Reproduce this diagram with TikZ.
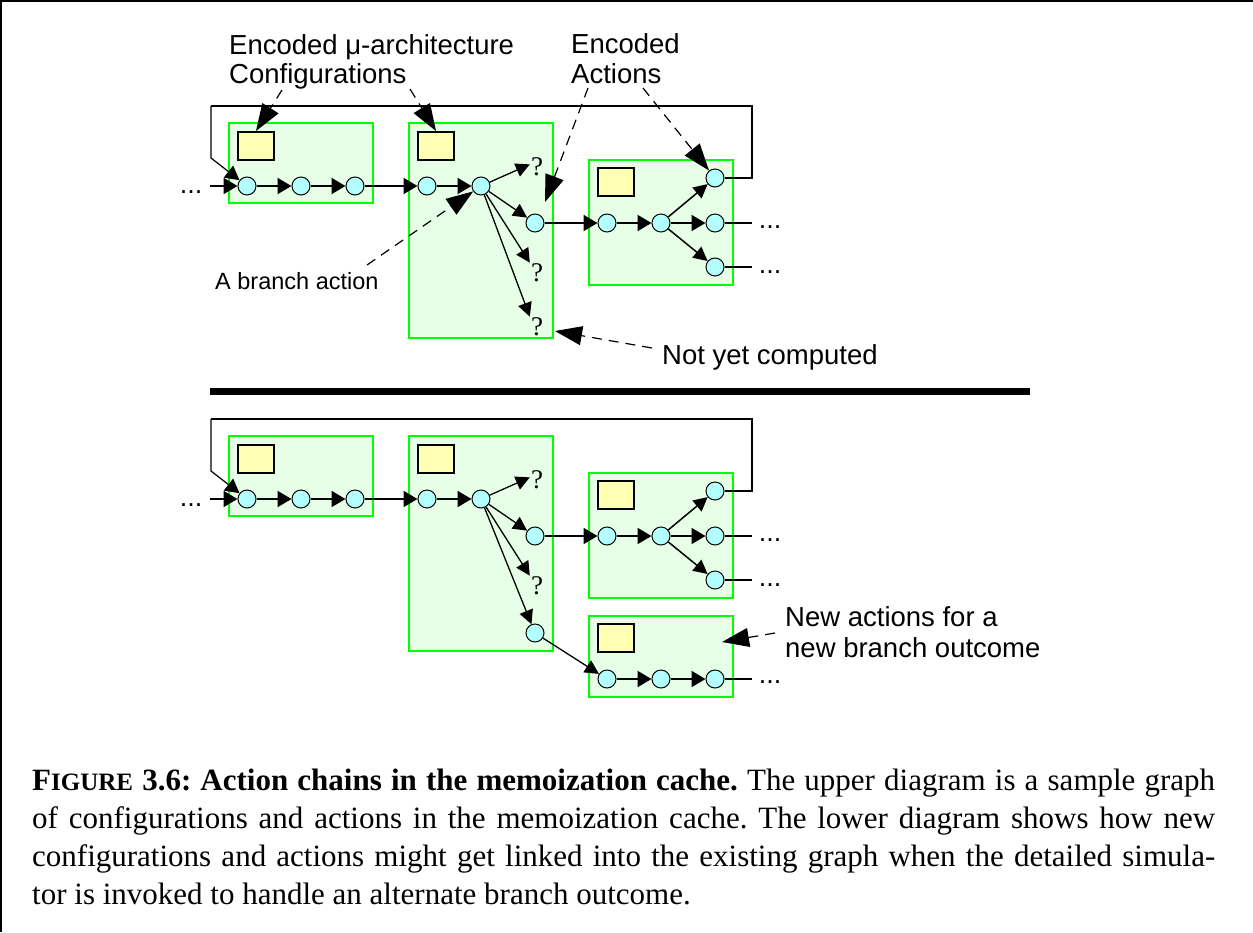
\documentclass[tikz,border=0pt]{standalone}
\usepackage{fontspec}
\setmainfont{Liberation Serif}
\newfontfamily\labelfont{Liberation Sans}
\usetikzlibrary{arrows.meta}

\definecolor{boxgreen}{RGB}{0,255,0}
\definecolor{boxfill}{RGB}{230,255,230}
\definecolor{encfill}{RGB}{255,255,179}
\definecolor{actfill}{RGB}{179,255,255}

\tikzset{
  cfgbox/.style={draw=boxgreen, fill=boxfill, line width=2.5pt, inner sep=0pt},
  enc/.style={draw=black, fill=encfill, line width=2pt, inner sep=0pt,
    minimum width=36pt, minimum height=28pt},
  act/.style={circle, draw=black, fill=actfill, line width=1pt, inner sep=0pt,
    minimum size=18pt},
  qmark/.style={inner sep=1pt, font=\fontsize{27}{30}\selectfont},
  dots/.style={anchor=base, inner sep=0pt, font=\labelfont\fontsize{27}{30}\selectfont},
  lbl/.style={anchor=base west, inner sep=0pt, font=\labelfont\fontsize{27.5}{30}\selectfont},
  smalllbl/.style={anchor=base west, inner sep=0pt, font=\labelfont\fontsize{23.5}{26}\selectfont},
  chain/.style={line width=2pt, -{Triangle[length=14pt,width=16pt]}},
  branch/.style={line width=1.3pt, -{Triangle[length=14pt,width=14pt]}},
  wire/.style={line width=2pt},
  callout/.style={line width=1.2pt, dash pattern=on 10pt off 7pt,
    -{Triangle[length=27pt,width=19pt]}},
}

% One memoization-cache graph: two configuration blocks, the branch block
% and the block that follows the taken branch.
\newcommand\memgraph[1]{%
  \node[cfgbox, minimum width=144pt, minimum height=80pt]  (#1b1) at (301,163) {};
  \node[cfgbox, minimum width=144pt, minimum height=215pt] (#1b2) at (481,230.5) {};
  \node[cfgbox, minimum width=144pt, minimum height=125pt] (#1b3) at (661,222.5) {};
  \node[enc] (#1e1) at (256,146) {};
  \node[enc] (#1e2) at (436,146) {};
  \node[enc] (#1e3) at (616,182) {};
  \node[act] (#1c1)  at (247,186) {};
  \node[act] (#1c2)  at (301,186) {};
  \node[act] (#1c3)  at (355,186) {};
  \node[act] (#1c4)  at (427,186) {};
  \node[act] (#1c5)  at (481,186) {};
  \node[act] (#1c6)  at (535,223) {};
  \node[act] (#1c7)  at (607,223) {};
  \node[act] (#1c8)  at (661,223) {};
  \node[act] (#1c9)  at (715,223) {};
  \node[act] (#1c10) at (715,178) {};
  \node[act] (#1c11) at (715,267) {};
  \node[qmark] (#1q1) at (537,167) {?};
  \node[qmark] (#1q2) at (537,273) {?};
  \node[dots] (#1d0)  at (191,193) {...};
  \node[dots] (#1d9)  at (770,228.5) {...};
  \node[dots] (#1d11) at (770,273) {...};
  \coordinate (#1in)  at (210,186);
  \coordinate (#1o9)  at (752,223);
  \coordinate (#1o11) at (752,267);
  \coordinate (#1tr)  at (752,106);
  \coordinate (#1tl)  at (211,106);
  \coordinate (#1bl)  at (211,158);
  \draw[chain] (#1in) -- (#1c1);
  \draw[chain] (#1c1) -- (#1c2);
  \draw[chain] (#1c2) -- (#1c3);
  \draw[chain] (#1c3) -- (#1c4);
  \draw[chain] (#1c4) -- (#1c5);
  \draw[branch] (#1c5) -- (#1q1.160);
  \draw[branch] (#1c5) -- (#1c6);
  \draw[branch] (#1c5) -- (#1q2.north west);
  \draw[chain] (#1c6) -- (#1c7);
  \draw[chain] (#1c7) -- (#1c8);
  \draw[chain] (#1c8) -- (#1c9);
  \draw[branch, line width=1.5pt] (#1c8) -- (#1c10);
  \draw[branch, line width=1.5pt] (#1c8) -- (#1c11);
  \draw[wire] (#1c9) -- (#1o9);
  \draw[wire] (#1c11) -- (#1o11);
  \draw[wire] (#1c10) -| (#1tr) -- (#1tl);
  \draw[line width=1.2pt, -{Triangle[length=14pt,width=15pt]}]
    (#1tl) -- (#1bl) -- (#1c1);
}

\begin{document}
\begin{tikzpicture}[x=1pt, y=-1pt]
  \useasboundingbox (0,0) rectangle (1253,932);
  \fill[white] (0,0) rectangle (1253,932);

  % frame edges
  \draw[line width=2pt] (0,1) -- (1253,1);
  \draw[line width=2pt] (1,0) -- (1,932);

  % ---------------- upper diagram ----------------
  \memgraph{u}
  \node[qmark] (uq3) at (537,327) {?};
  \draw[branch] (uc5) -- (uq3.north west);

  \node[lbl] (cfgtxt1) at (229,54) {Encoded μ-architecture};
  \node[lbl] (cfgtxt2) at (229,83) {Configurations};
  \node[lbl] (acttxt1) at (571,53) {Encoded};
  \node[lbl] (acttxt2) at (571,83) {Actions};
  \node[smalllbl] (brtxt) at (215,289) {A branch action};
  \node[lbl] (nytxt) at (662,364) {Not yet computed};

  \coordinate (cfgA) at (282,90);
  \coordinate (cfgB) at (410,89);
  \coordinate (actA) at (588,88);
  \coordinate (actB) at (643,88);
  \coordinate (actTip) at (545,202);
  \coordinate (brA) at (367,265);
  \coordinate (nyA) at (652,348);
  \coordinate (nyTip) at (555,331);
  \draw[callout] (cfgA) -- (ue1.north);
  \draw[callout] (cfgB) -- (ue2.north);
  \draw[callout] (actA) -- (actTip);
  \draw[callout] (actB) -- (uc10);
  \draw[callout] (brA) -- (uc5);
  \draw[callout] (nyA) -- (nyTip);

  % divider
  \draw[line width=7pt] (210,391) -- (1030,391);

  % ---------------- lower diagram ----------------
  \begin{scope}[yshift=-313pt]
    \memgraph{l}
    \node[cfgbox, minimum width=144pt, minimum height=81pt] (lb4) at (661,343.5) {};
    \node[enc] (le4) at (616,325) {};
    \node[act] (lc12) at (535,320) {};
    \node[act] (lc13) at (607,366) {};
    \node[act] (lc14) at (661,366) {};
    \node[act] (lc15) at (715,366) {};
    \node[dots] (ld15) at (770,370) {...};
    \coordinate (lo15) at (752,366);
    \draw[branch] (lc5) -- (lc12);
    \draw[branch] (lc12) -- (lc13);
    \draw[chain] (lc13) -- (lc14);
    \draw[chain] (lc14) -- (lc15);
    \draw[wire] (lc15) -- (lo15);
  \end{scope}

  \node[lbl] (newtxt1) at (785,626) {New actions for a};
  \node[lbl] (newtxt2) at (785,657) {new branch outcome};
  \coordinate (newA) at (775,633);
  \coordinate (newTip) at (722,642);
  \draw[callout] (newA) -- (newTip);

  % ---------------- caption ----------------
  \begin{scope}[every node/.style={anchor=base west, inner sep=0pt,
      font=\fontsize{31}{38}\selectfont\frenchspacing}]
    \node (cap1) at (32,790) {\hbox to 1183pt{\bfseries F{\fontsize{25}{38}\selectfont IGURE} 3.6: Action chains in the memoization cache.\mdseries{} The upper diagram is a sample graph}};
    \node (cap2) at (32,828) {\hbox to 1183pt{of configurations and actions in the memoization cache. The lower diagram shows how new}};
    \node (cap3) at (32,866) {\hbox to 1183pt{configurations and actions might get linked into the existing graph when the detailed simula-}};
    \node (cap4) at (32,904) {tor is invoked to handle an alternate branch outcome.};
  \end{scope}
\end{tikzpicture}
\end{document}
